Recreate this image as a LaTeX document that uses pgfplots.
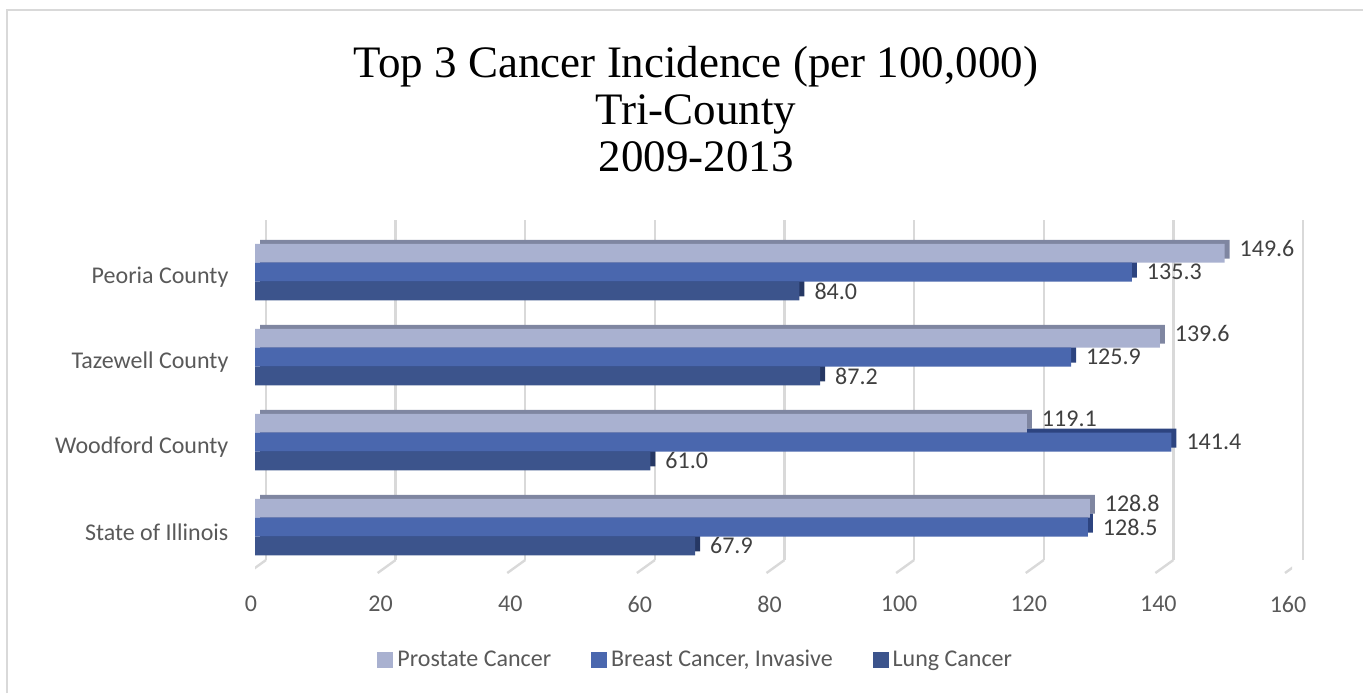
\documentclass[border=0pt]{standalone}
\usepackage{pgfplots}
\pgfplotsset{compat=1.18}
\usepackage{fontspec}
\setmainfont{Carlito}
\newfontfamily\titlefont{Liberation Serif}
\definecolor{prost}{RGB}{169,177,208}
\definecolor{prostD}{RGB}{127,134,161}
\definecolor{breast}{RGB}{74,103,174}
\definecolor{breastD}{RGB}{45,68,128}
\definecolor{lung}{RGB}{60,84,140}
\definecolor{lungD}{RGB}{38,56,100}
\definecolor{gridc}{RGB}{217,217,217}
\definecolor{tickc}{RGB}{89,89,89}
\definecolor{labc}{RGB}{64,64,64}
\begin{document}
\begin{tikzpicture}
\useasboundingbox (0,0) rectangle (681.5pt,346.5pt);
\draw[gridc, line width=1pt] (3.5pt,0) -- (3.5pt,341.5pt) -- (681.5pt,341.5pt);
\node[align=center, text=black, font=\titlefont\fontsize{22.5}{23.5}\selectfont] at (348pt,292pt)
  {Top 3 Cancer Incidence (per 100,000)\\Tri-County\\2009-2013};
\begin{axis}[
  at={(127.5pt,60pt)}, anchor=south west,
  scale only axis, width=518.5pt, height=170pt,
  xmin=0, xmax=160, ymin=-0.46, ymax=3.54,
  y dir=reverse,
  xtick={0,20,...,160},
  ytick={0,1,2,3},
  yticklabels={Peoria County, Tazewell County, Woodford County, State of Illinois},
  axis line style={draw=none},
  tick style={draw=none},
  xmajorgrids,
  major grid style={draw=gridc, line width=1.2pt, xshift=5.5pt, yshift=6.5pt},
  /pgf/number format/assume math mode=true,
  ticklabel style={font=\fontsize{12}{14}\selectfont, text=tickc},
  xticklabel shift=8pt,
  xticklabel style={xshift=-2pt},
  yticklabel shift=5.5pt,
  yticklabel style={yshift=-2.5pt},
  xbar, bar width=9.4pt,
  legend style={at={(0.426,-0.256)}, anchor=center, draw=none, legend columns=3,
    font=\fontsize{12}{14}\selectfont, text=tickc,
    /tikz/every even column/.append style={column sep=18pt}},
  legend image code/.code={\fill[#1, draw=none] (0pt,-4pt) rectangle (8pt,4pt);},
  nodes near coords style={anchor=west, xshift=4pt, font=\fontsize{12}{14}\selectfont, text=labc,
    /pgf/number format/fixed, /pgf/number format/fixed zerofill,
    /pgf/number format/precision=1, /pgf/number format/assume math mode=true},
]
% back faces (3D depth)
\addplot[forget plot, fill=prostD, draw=none, bar shift=9.4pt, xshift=2.5pt, yshift=2pt]
  coordinates {(149.6,0) (139.6,1) (119.1,2) (128.8,3)};
\addplot[forget plot, fill=breastD, draw=none, bar shift=0pt, xshift=2.5pt, yshift=2pt]
  coordinates {(135.3,0) (125.9,1) (141.4,2) (128.5,3)};
\addplot[forget plot, fill=lungD, draw=none, bar shift=-9.4pt, xshift=2.5pt, yshift=2pt]
  coordinates {(84.0,0) (87.2,1) (61.0,2) (67.9,3)};
% front faces
\addplot[fill=prost, draw=none, bar shift=9.4pt, nodes near coords,
  every node near coord/.append style={yshift=2.5pt}]
  coordinates {(149.6,0) (139.6,1) (119.1,2) (128.8,3)};
\addlegendentry{Prostate Cancer}
\addplot[fill=breast, draw=none, bar shift=0pt, nodes near coords]
  coordinates {(135.3,0) (125.9,1) (141.4,2) (128.5,3)};
\addlegendentry{Breast Cancer, Invasive}
\addplot[fill=lung, draw=none, bar shift=-9.4pt, nodes near coords]
  coordinates {(84.0,0) (87.2,1) (61.0,2) (67.9,3)};
\addlegendentry{Lung Cancer}
\pgfplotsinvokeforeach{0,20,...,160}{
  \draw[gridc, line width=1.2pt] ([xshift=5.5pt,yshift=6.5pt]axis cs:#1,3.54) -- ([xshift=-3.5pt]axis cs:#1,3.54);
}
\end{axis}
\end{tikzpicture}
\end{document}
